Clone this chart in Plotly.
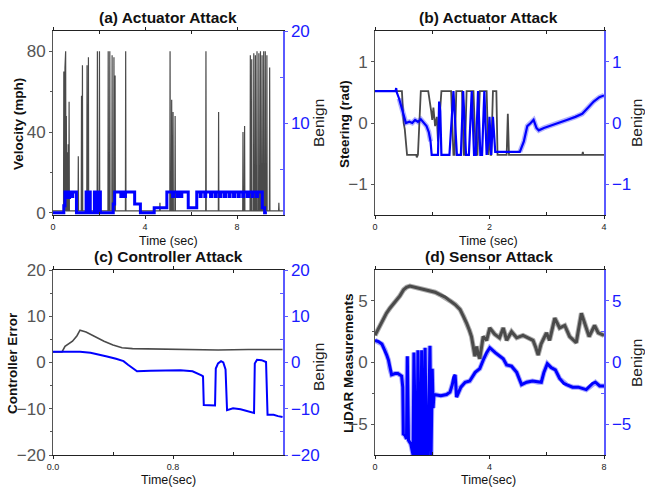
import plotly.graph_objects as go

# ---------------- data ----------------
# (a) velocity spikes (time sec, peak mph) and benign step trace (right axis)
a_spike_t = [0.47, 0.52, 0.55, 0.58, 0.62, 0.66, 0.70, 1.10, 1.24, 1.28, 1.48, 1.54,
             1.93, 2.02, 2.40, 2.47, 2.57, 2.65, 2.70, 3.16, 4.65, 5.09, 5.16, 5.22,
             5.31, 6.65, 7.20, 8.26, 8.33, 8.58, 8.64, 8.73, 8.80, 8.87, 8.95, 9.02,
             9.09, 9.16, 9.23, 9.30, 9.42, 9.82]
a_spike_v = [70, 72, 80, 48, 30, 34, 55, 28, 58, 73, 73, 77,
             80, 80, 80, 80, 78, 77, 68, 80, 5, 80, 56, 50,
             48, 80, 50, 40, 43, 78, 76, 79, 78, 80, 79, 80,
             78, 80, 80, 78, 72, 5]
a_base = 1.0
a_ben_t = [0.00, 0.47, 0.52, 0.60, 0.62, 0.70, 0.72, 0.84, 0.86, 1.02, 1.44, 1.47, 1.58,
           1.62, 1.80, 1.84, 1.90, 1.95, 2.02, 2.06, 2.62, 2.68, 2.95, 3.00, 3.10, 3.15,
           3.55, 3.80, 4.40, 4.95, 5.20, 5.25, 5.40, 5.45, 5.55, 5.60, 5.88, 6.25, 6.40,
           6.44, 6.60, 6.64, 6.85, 6.90, 7.05, 7.10, 7.25, 7.30, 7.45, 7.50, 7.65, 7.70,
           7.85, 7.90, 8.05, 8.10, 8.25, 8.30, 8.45, 8.50, 8.65, 8.70, 8.85, 8.90, 9.10,
           9.20, 9.30]
a_ben_v = [0.25, 1.0, 2.5, 1.9, 2.5, 1.9, 2.5, 2.0, 2.5, 0.25, 2.5, 0.25, 2.5,
           0.25, 2.5, 0.25, 2.5, 0.25, 2.5, 0.25, 1.2, 2.5, 2.0, 2.5, 2.0, 2.5,
           1.2, 0.25, 0.8, 2.5, 2.0, 2.5, 2.0, 2.5, 2.0, 2.5, 0.8, 2.5, 2.0,
           2.5, 2.0, 2.5, 2.0, 2.5, 2.0, 2.5, 2.0, 2.5, 2.0, 2.5, 2.0, 2.5,
           2.0, 2.5, 2.0, 2.5, 2.0, 2.5, 2.0, 2.5, 2.0, 2.5, 2.0, 2.5, 0.8,
           0.25, 0.25]

# (b) steering
b_att_t = [0.00, 0.47, 0.50, 0.52, 0.56, 0.72, 0.73, 0.75, 0.80, 0.93, 0.98, 1.00, 1.02,
           1.05, 1.08, 1.10, 1.16, 1.33, 1.37, 1.39, 1.42, 1.52, 1.55, 1.57, 1.60, 1.72,
           1.76, 1.79, 1.83, 1.95, 1.98, 2.00, 2.02, 2.03, 2.06, 2.12, 2.14, 2.30, 2.32,
           2.34, 3.62, 3.63, 3.64, 4.00]
b_att_v = [0.52, 0.52, 0.00, -0.10, -0.52, -0.52, -0.56, -0.52, 0.52, 0.52, 0.20, 0.05, 0.25,
           -0.05, 0.10, -0.30, 0.52, 0.52, -0.52, -0.52, 0.52, 0.52, -0.52, -0.52, 0.52, 0.52,
           -0.52, -0.52, 0.52, 0.52, -0.52, -0.10, -0.52, -0.52, 0.52, 0.52, -0.52, -0.52, 0.15,
           -0.52, -0.52, -0.47, -0.52, -0.52]
b_ben_t = [0.00, 0.36, 0.37, 0.38, 0.42, 0.46, 0.50, 0.54, 0.60, 0.65, 0.70, 0.75, 0.80,
           0.85, 0.90, 0.94, 0.97, 0.99, 1.10, 1.12, 1.14, 1.16, 1.30, 1.37, 1.43, 1.50,
           1.54, 1.59, 1.64, 1.69, 1.73, 1.76, 1.80, 1.84, 1.87, 1.91, 1.95, 1.98, 2.00,
           2.03, 2.06, 2.10, 2.53, 2.60, 2.66, 2.72, 2.77, 2.82, 2.86, 2.95, 3.05, 3.20,
           3.35, 3.50, 3.62, 3.72, 3.82, 3.92, 4.00]
b_ben_v = [0.52, 0.52, 0.57, 0.50, 0.40, 0.25, 0.10, 0.00, 0.02, 0.00, 0.05, 0.02, 0.06,
           0.00, -0.05, -0.15, -0.30, -0.52, -0.52, 0.35, 0.20, -0.52, -0.52, 0.52, -0.52, -0.52,
           0.52, -0.52, -0.52, 0.52, -0.52, -0.52, 0.52, -0.52, -0.52, 0.52, -0.52, -0.30, 0.10,
           -0.52, 0.10, -0.47, -0.47, -0.30, -0.05, 0.00, 0.05, -0.08, -0.12, -0.08, -0.05, 0.00,
           0.05, 0.10, 0.15, 0.25, 0.35, 0.42, 0.45]

# (c) controller error
c_att_t = [0.00, 0.06, 0.08, 0.10, 0.13, 0.16, 0.18, 0.22, 0.28, 0.34, 0.40, 0.46, 0.53,
           0.70, 0.90, 1.10, 1.30, 1.45, 1.53]
c_att_v = [2.3, 2.3, 3.5, 4.0, 4.6, 5.8, 7.0, 6.6, 5.6, 4.6, 3.8, 3.2, 3.0,
           2.9, 2.8, 2.7, 2.8, 2.75, 2.8]
c_ben_t = [0.00, 0.18, 0.25, 0.30, 0.36, 0.42, 0.47, 0.50, 0.54, 0.56, 0.65, 0.75, 0.85,
           0.93, 0.97, 0.99, 1.00, 1.005, 1.08, 1.085, 1.10, 1.12, 1.135, 1.15, 1.16, 1.20,
           1.25, 1.30, 1.34, 1.345, 1.36, 1.39, 1.42, 1.43, 1.47, 1.50, 1.53]
c_ben_v = [2.3, 2.3, 2.1, 1.8, 1.3, 0.8, 0.3, -0.5, -1.5, -1.9, -1.8, -1.8, -1.7,
           -1.9, -2.4, -2.8, -3.0, -9.2, -9.3, -1.3, -0.2, 0.3, 0.0, -1.5, -10.3, -9.9,
           -10.1, -10.5, -10.9, -0.2, 0.6, 0.5, 0.1, -11.3, -11.3, -11.6, -11.8]

# (d) LiDAR measurements
d_att_t = [0.00, 0.15, 0.29, 0.40, 0.52, 0.70, 0.87, 1.00, 1.10, 1.22, 1.40, 1.57, 1.75,
           1.92, 2.10, 2.27, 2.45, 2.62, 2.80, 2.97, 3.10, 3.20, 3.30, 3.37, 3.44, 3.49,
           3.55, 3.60, 3.66, 3.72, 3.78, 3.90, 4.01, 4.18, 4.35, 4.48, 4.60, 4.77, 4.95,
           5.17, 5.35, 5.52, 5.62, 5.70, 5.80, 5.99, 6.10, 6.28, 6.45, 6.63, 6.80, 7.03,
           7.21, 7.38, 7.48, 7.67, 7.80, 8.00]
d_att_v = [2.2, 2.9, 3.5, 4.0, 4.4, 4.9, 5.4, 5.9, 6.1, 6.2, 6.1, 6.0, 5.9,
           5.8, 5.7, 5.5, 5.3, 5.0, 4.7, 4.3, 3.7, 3.2, 2.6, 2.1, 1.2, 0.5,
           1.3, 0.7, 0.3, 1.2, 2.1, 1.8, 2.8, 2.3, 2.0, 2.8, 1.8, 2.5, 2.0,
           2.2, 2.0, 1.8, 1.2, 0.6, 1.5, 2.4, 1.8, 3.6, 2.8, 3.0, 2.1, 1.6,
           4.0, 2.9, 2.1, 3.0, 2.4, 2.2]
d_ben_t = [0.00, 0.12, 0.24, 0.35, 0.41, 0.47, 0.52, 0.58, 0.70, 0.80, 0.93, 0.97, 0.99,
           1.05, 1.10, 1.13, 1.17, 1.25, 1.33, 1.36, 1.42, 1.47, 1.50, 1.55, 1.60, 1.63,
           1.68, 1.72, 1.75, 1.80, 1.85, 1.92, 1.96, 2.00, 2.03, 2.06, 2.30, 2.50, 2.62,
           2.70, 2.75, 2.80, 2.85, 3.00, 3.15, 3.31, 3.50, 3.66, 3.80, 3.90, 4.01, 4.20,
           4.48, 4.60, 4.77, 4.95, 5.12, 5.30, 5.50, 5.70, 5.81, 5.90, 6.02, 6.15, 6.30,
           6.45, 6.60, 6.69, 6.90, 7.10, 7.38, 7.60, 7.70, 7.85, 8.00]
d_ben_v = [1.8, 1.7, 1.5, 1.0, 0.6, 0.2, -0.5, -1.0, -0.9, -0.9, -1.1, -2.0, -5.8,
           -5.9, -6.2, 0.5, -6.3, -6.6, -7.5, 0.8, -7.5, -7.5, 1.0, -7.5, -7.5, 1.0,
           -7.5, -7.5, 1.2, -7.5, -7.5, 1.35, -7.5, -0.5, -3.7, -2.6, -2.7, -2.6, -2.4,
           -1.8, -1.2, -1.0, -2.8, -2.0, -1.6, -1.5, -0.8, -0.5, 0.3, 0.8, 1.2, 0.8,
           0.3, -0.2, -0.3, -0.8, -1.8, -1.6, -1.5, -1.6, -1.6, -0.8, -0.1, -0.4, -0.6,
           -1.3, -1.7, -1.8, -2.0, -2.0, -2.2, -1.7, -1.6, -1.9, -1.9]

titles = ["(a) Actuator Attack", "(b) Actuator Attack", "(c) Controller Attack", "(d) Sensor Attack"]
ytitles = ["Velocity (mph)", "Steering (rad)", "Controller Error", "LiDAR Measurements"]
xtitles = ["Time (sec)", "Time (sec)", "Time(sec)", "Time(sec)"]

# build spike polyline for (a)
a_att_t, a_att_v = [0.0], [a_base]
for t, v in zip(a_spike_t, a_spike_v):
    a_att_t += [t - 0.012, t, t + 0.012]
    a_att_v += [a_base, v, a_base]
a_att_t.append(10.0)
a_att_v.append(a_base)

# noisy segments of (b) benign trace (for a faint noise halo)
b_noisy1 = [(t, v) for t, v in zip(b_ben_t, b_ben_v) if 0.40 <= t <= 0.97]
b_noisy2 = [(t, v) for t, v in zip(b_ben_t, b_ben_v) if t >= 2.53]

# ---------------- figure ----------------
W, H = 645, 487
GREY = "#4a4a4a"
BLUE = "#0000ff"
AXBLUE = "#5a5aff"
FONT = "Liberation Sans, Arial, sans-serif"

fig = go.Figure()

def tr(x, y, xa, ya, color, width, shape="linear", opacity=1.0):
    fig.add_trace(go.Scatter(x=x, y=y, xaxis=xa, yaxis=ya, mode="lines",
                             line=dict(color=color, width=width, shape=shape),
                             opacity=opacity, showlegend=False, hoverinfo="skip"))

tr(a_att_t, a_att_v, "x", "y", GREY, 1.2)
tr(a_ben_t, a_ben_v, "x", "y2", BLUE, 3, "hv")
tr(b_att_t, b_att_v, "x2", "y3", GREY, 1.8)
for seg in (b_noisy1, b_noisy2):
    tr([p[0] for p in seg], [p[1] for p in seg], "x2", "y4", BLUE, 5, opacity=0.3)
tr(b_ben_t, b_ben_v, "x2", "y4", BLUE, 2.2)
tr(c_att_t, c_att_v, "x3", "y5", GREY, 1.6)
tr(c_ben_t, c_ben_v, "x3", "y6", BLUE, 2)
tr(d_att_t, d_att_v, "x4", "y7", GREY, 5, opacity=0.45)
tr(d_att_t, d_att_v, "x4", "y7", GREY, 3)
tr(d_ben_t, d_ben_v, "x4", "y8", BLUE, 5, opacity=0.35)
tr(d_ben_t, d_ben_v, "x4", "y8", BLUE, 3)

xl = [53 / W, 283 / W]
xr = [375 / W, 604 / W]
yt = [1 - 215 / H, 1 - 31 / H]
yb = [1 - 455 / H, 1 - 270 / H]

def xax(dom, anchor, rng, tv, tt, minor):
    return dict(domain=dom, anchor=anchor, range=rng, tickvals=tv, ticktext=tt,
                automargin=False,
                showline=True, linecolor="#222", linewidth=1, mirror="ticks",
                ticks="outside", ticklen=3, tickcolor="#222", showgrid=False, zeroline=False,
                tickfont=dict(size=9, color="#222", family=FONT),
                minor=dict(tickvals=minor, ticks="inside", ticklen=3, tickcolor="#222"))

def yl(dom, anchor, rng, tv, minor):
    return dict(domain=dom, anchor=anchor, range=rng, tickvals=tv,
                automargin=False,
                showline=True, linecolor="#555", linewidth=1, mirror=False,
                ticks="outside", ticklen=3, tickcolor="#555", showgrid=False, zeroline=False,
                tickfont=dict(size=17, color="#555", family=FONT),
                minor=dict(tickvals=minor, ticks="outside", ticklen=2, tickcolor="#555"))

def yr(over, anchor, rng, tv, minor):
    return dict(overlaying=over, anchor=anchor, side="right", range=rng, tickvals=tv,
                automargin=False,
                showline=True, linecolor=AXBLUE, linewidth=1.5,
                ticks="outside", ticklen=3, tickcolor=AXBLUE, showgrid=False, zeroline=False,
                tickfont=dict(size=17, color="#1a1aff", family=FONT),
                minor=dict(tickvals=minor, ticks="inside", ticklen=3, tickcolor=AXBLUE))

layout = dict(
    template="none",
    width=W, height=H, margin=dict(l=0, r=0, t=0, b=0, pad=0), autosize=False,
    paper_bgcolor="white", plot_bgcolor="white",
    font=dict(family=FONT),
    xaxis=xax(xl, "y", [0, 10], [0, 4, 8], ["0", "4", "8"], [2, 6]),
    yaxis=yl(yt, "x", [-1, 90], [0, 40, 80], [20, 60]),
    yaxis2=yr("y", "x", [0, 20], [10, 20], [5, 15]),
    xaxis2=xax(xr, "y3", [0, 4], [0, 2, 4], ["0", "2", "4"], [1, 3]),
    yaxis3=yl(yt, "x2", [-1.5, 1.5], [-1, 0, 1], []),
    yaxis4=yr("y3", "x2", [-1.5, 1.5], [-1, 0, 1], []),
    xaxis3=xax(xl, "y5", [0, 1.533], [0, 0.8], ["0.0", "0.8"], [0.4, 1.2]),
    yaxis5=yl(yb, "x3", [-20, 20], [-20, -10, 0, 10, 20], [-15, -5, 5, 15]),
    yaxis6=yr("y5", "x3", [-20, 20], [-20, -10, 0, 10, 20], [-15, -5, 5, 15]),
    xaxis4=xax(xr, "y7", [0, 8], [0, 4, 8], ["0", "4", "8"], [2, 6]),
    yaxis7=yl(yb, "x4", [-7.5, 7.5], [-5, 0, 5], [-2.5, 2.5]),
    yaxis8=yr("y7", "x4", [-7.5, 7.5], [-5, 0, 5], [-2.5, 2.5]),
)

ann = []
def a(text, xpx, ypx, size, bold=False, angle=0, color="#111"):
    ann.append(dict(text=("<b>%s</b>" % text) if bold else text, x=xpx / W, y=1 - ypx / H,
                    xref="paper", yref="paper", xanchor="center", yanchor="middle",
                    showarrow=False, textangle=angle,
                    font=dict(size=size, color=color, family=FONT)))

cx = [168, 489, 168, 489]
tys = [17, 17, 256, 256]
for i in range(4):
    a(titles[i], cx[i], tys[i], 15.5, bold=True)
a(xtitles[0], 168, 241, 12.5)
a(xtitles[1], 489, 241, 12.5)
a(xtitles[2], 168, 480, 12.5)
a(xtitles[3], 489, 480, 12.5)
a(ytitles[0], 18, 124, 13.5, bold=True, angle=-90)
a(ytitles[1], 344, 124, 13.5, bold=True, angle=-90)
a(ytitles[2], 12, 363, 13.5, bold=True, angle=-90)
a(ytitles[3], 348, 363, 13.5, bold=True, angle=-90)
for xp, yp in [(318, 123), (636, 123), (318, 367), (636, 363)]:
    a("Benign", xp, yp, 15.5, angle=-90, color="#222")

layout["annotations"] = ann
fig.update_layout(**layout)
fig.write_html("out.html", config={"displayModeBar": False, "staticPlot": True},
               post_script="document.body.style.margin='0px';document.body.style.padding='0px';document.body.style.overflow='hidden';")
